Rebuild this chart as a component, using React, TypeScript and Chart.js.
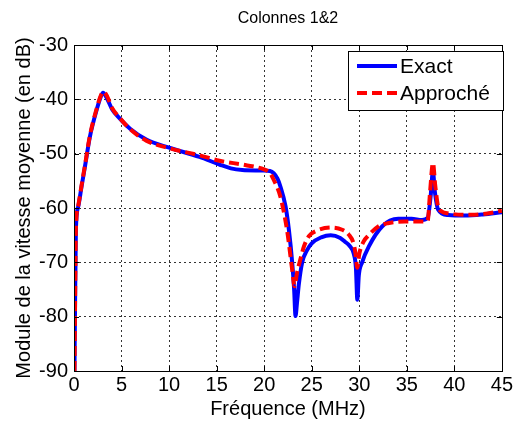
import React, { useEffect, useRef } from "react";
import { Chart, registerables } from "chart.js";

Chart.register(...registerables);

const chartTitle = "Colonnes 1&2";
const xTitle = "Fréquence (MHz)";
const yTitle = "Module de la vitesse moyenne (en dB)";
const legendLabels = ["Exact", "Approché"];

const exactFreq = [0.05, 0.1, 0.2, 0.45, 0.8, 1.15, 1.67, 2.37, 2.8, 3.05, 3.4, 4.0, 4.8, 5.9, 7.6, 10.0, 13.2, 15.3, 16.5, 17.7, 19.8, 20.6, 21.0, 21.4, 21.7, 22.25, 22.6, 22.95, 23.15, 23.3, 23.45, 23.65, 24.0, 24.5, 25.0, 26.0, 27.0, 28.0, 28.5, 29.0, 29.4, 29.65, 29.8, 29.95, 30.3, 31.0, 32.4, 34.1, 35.5, 36.6, 37.2, 37.5, 37.75, 37.95, 38.3, 39.35, 41.1, 43.0, 45.0];
const exactDb = [-90, -80, -64, -59.7, -56, -52.4, -46.9, -42, -39.6, -38.8, -39.6, -41.8, -43.5, -45.4, -47.4, -48.9, -50.6, -52.0, -52.7, -53.0, -53.1, -53.2, -53.6, -54.6, -56.0, -59.7, -64, -70.1, -75, -79.9, -77.5, -74, -70, -67.8, -66.5, -65.4, -65.0, -65.5, -66.2, -67.0, -68.3, -71, -76.9, -72.5, -70.0, -67.1, -63.4, -62.0, -62.0, -62.2, -61.8, -58, -53.3, -57, -60.3, -61.3, -61.4, -61.2, -60.8];

const approxFreq = [0.05, 0.1, 0.2, 0.45, 0.8, 1.15, 1.67, 2.37, 2.8, 3.1, 3.5, 4.0, 4.8, 5.9, 7.6, 10.0, 13.2, 15.3, 18.0, 20.0, 20.6, 21.0, 21.7, 22.4, 22.95, 23.2, 23.45, 23.8, 24.2, 24.7, 25.5, 27.1, 28.2, 28.9, 29.4, 29.6, 29.8, 30.0, 30.45, 31.0, 32.0, 33.0, 34.8, 36.7, 37.2, 37.45, 37.75, 38.0, 38.3, 38.65, 39.4, 41.8, 43.5, 45.0];
const approxDb = [-90, -80, -64, -59.5, -55.8, -52.2, -46.7, -41.8, -39.4, -38.6, -39.5, -41.6, -43.4, -45.5, -47.6, -49.0, -50.3, -51.3, -52.1, -52.9, -53.5, -54.8, -57.9, -64, -71.4, -74.4, -72, -69.5, -67, -65.2, -64.2, -63.6, -64.0, -64.9, -66.5, -68.3, -71, -68.5, -66.2, -65, -63.4, -62.8, -62.5, -62.5, -62.3, -57, -51.7, -56, -59.8, -60.6, -61.0, -61.25, -61.0, -60.5];

const xMin = 0, xMax = 45, xStep = 5;
const yMin = -90, yMax = -30, yStep = 10;

const FONT = "'Liberation Sans', Arial, sans-serif";

const framePlugin = {
  id: "frame",
  afterDraw(chart: any) {
    const { ctx, chartArea: a, scales } = chart;
    ctx.save();
    ctx.strokeStyle = "#000";
    ctx.lineWidth = 1;
    ctx.setLineDash([]);
    ctx.strokeRect(Math.round(a.left) + 0.5, Math.round(a.top) + 0.5, Math.round(a.right - a.left), Math.round(a.bottom - a.top));
    const tl = 5;
    ctx.beginPath();
    for (let v = xMin + xStep; v < xMax; v += xStep) {
      const px = Math.round(scales.x.getPixelForValue(v)) + 0.5;
      ctx.moveTo(px, a.bottom); ctx.lineTo(px, a.bottom - tl);
      ctx.moveTo(px, a.top); ctx.lineTo(px, a.top + tl);
    }
    for (let v = yMin + yStep; v < yMax; v += yStep) {
      const py = Math.round(scales.y.getPixelForValue(v)) + 0.5;
      ctx.moveTo(a.left, py); ctx.lineTo(a.left + tl, py);
      ctx.moveTo(a.right, py); ctx.lineTo(a.right - tl, py);
    }
    ctx.stroke();

    // title
    ctx.fillStyle = "#000";
    ctx.font = `16px ${FONT}`;
    ctx.textAlign = "center";
    ctx.textBaseline = "middle";
    ctx.fillText(chartTitle, (a.left + a.right) / 2, 19);

    // legend
    const bx = 348.5, by = 51.5, bw = 155, bh = 59;
    ctx.fillStyle = "#fff";
    ctx.fillRect(bx, by, bw, bh);
    ctx.strokeStyle = "#000";
    ctx.strokeRect(bx, by, bw, bh);
    const rows = [
      { color: "#0000ff", dash: [] as number[], y: 66 },
      { color: "#ff0000", dash: [10, 5], y: 93 },
    ];
    rows.forEach((r, i) => {
      ctx.strokeStyle = r.color;
      ctx.lineWidth = 4;
      ctx.setLineDash(r.dash);
      ctx.beginPath();
      ctx.moveTo(357, r.y);
      ctx.lineTo(397, r.y);
      ctx.stroke();
      ctx.setLineDash([]);
      ctx.fillStyle = "#000";
      ctx.font = `21px ${FONT}`;
      ctx.textAlign = "left";
      ctx.textBaseline = "middle";
      ctx.fillText(legendLabels[i], 400, r.y + 1);
    });
    ctx.restore();
  },
};

export default function App() {
  const ref = useRef<HTMLCanvasElement>(null);
  useEffect(() => {
    if (!ref.current) return;
    const exactPts = exactFreq.map((x, i) => ({ x, y: exactDb[i] }));
    const approxPts = approxFreq.map((x, i) => ({ x, y: approxDb[i] }));
    const chart = new Chart(ref.current, {
      type: "line",
      data: {
        datasets: [
          {
            label: legendLabels[0],
            data: exactPts,
            borderColor: "#0000ff",
            borderWidth: 4,
            pointRadius: 0,
            cubicInterpolationMode: "monotone",
            order: 2,
          },
          {
            label: legendLabels[1],
            data: approxPts,
            borderColor: "#ff0000",
            borderWidth: 4,
            borderDash: [10, 5],
            pointRadius: 0,
            cubicInterpolationMode: "monotone",
            order: 1,
          },
        ],
      },
      options: {
        responsive: false,
        animation: false,
        layout: { padding: { top: 45, right: 11, left: 0, bottom: 0 } },
        plugins: { legend: { display: false }, title: { display: false }, tooltip: { enabled: false } },
        scales: {
          x: {
            type: "linear",
            min: xMin,
            max: xMax,
            afterFit: (s: any) => { s.height = 50; },
            ticks: { stepSize: xStep, color: "#000", font: { family: FONT, size: 20 }, padding: 2, maxRotation: 0 },
            grid: {
              drawTicks: false,
              color: (c: any) => (c.tick && (c.tick.value === xMin || c.tick.value === xMax) ? "rgba(0,0,0,0)" : "#333"),
              lineWidth: 1,
            },
            border: { display: false, dash: [2, 3] },
            title: { display: true, text: xTitle, color: "#000", font: { family: FONT, size: 20 }, padding: { top: 2, bottom: 0 } },
          },
          y: {
            type: "linear",
            min: yMin,
            max: yMax,
            afterFit: (s: any) => { s.width = 74; },
            ticks: { stepSize: yStep, color: "#000", font: { family: FONT, size: 20 }, padding: 6 },
            grid: {
              drawTicks: false,
              color: (c: any) => (c.tick && (c.tick.value === yMin || c.tick.value === yMax) ? "rgba(0,0,0,0)" : "#333"),
              lineWidth: 1,
            },
            border: { display: false, dash: [2, 3] },
            title: { display: true, text: yTitle, color: "#000", font: { family: FONT, size: 20 }, padding: { top: 12, bottom: 0 } },
          },
        },
      },
      plugins: [framePlugin],
    });
    return () => chart.destroy();
  }, []);
  return (
    <div style={{ position: "fixed", left: 0, top: 0, width: 515, height: 421, background: "#fff" }}>
      <canvas ref={ref} width={515} height={421} style={{ width: 515, height: 421, display: "block" }} />
    </div>
  );
}
